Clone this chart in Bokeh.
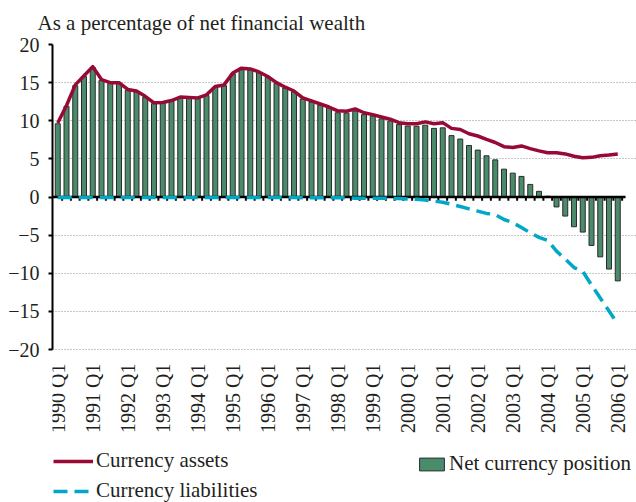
import math
from bokeh.plotting import figure
from bokeh.models import (Range1d, FixedTicker, Legend, LegendItem, ColumnDataSource)
from bokeh.embed import file_html
from bokeh.resources import INLINE

# ---------------- data ----------------
years = list(range(1990, 2007))
quarters = [f"{y} Q{q}" for y in years for q in (1, 2, 3, 4)][:65]

currency_assets = [
    9.7, 12.0, 14.7, 15.9,
    17.1, 15.4, 15.0, 15.0,
    14.1, 13.9, 13.2, 12.35,
    12.4, 12.65, 13.1, 13.05,
    13.0, 13.4, 14.5, 14.7,
    16.25, 16.9, 16.8, 16.4,
    15.8, 15.0, 14.4, 13.9,
    13.0, 12.6, 12.2, 11.8,
    11.3, 11.25, 11.55, 11.05,
    10.8, 10.5, 10.2, 9.75,
    9.6, 9.6, 9.85, 9.6,
    9.75, 9.0, 8.85, 8.3,
    8.0, 7.55, 7.15, 6.6,
    6.5, 6.7, 6.35, 6.05,
    5.8, 5.8, 5.65, 5.35,
    5.15, 5.2, 5.4, 5.5,
    5.65,
]

currency_liabilities = [
    -0.05, -0.05, -0.05, -0.05,
    -0.05, -0.05, -0.05, -0.05,
    -0.05, -0.05, -0.05, -0.05,
    -0.05, -0.05, -0.05, -0.05,
    -0.05, -0.05, -0.05, -0.05,
    -0.05, -0.05, -0.05, -0.05,
    -0.05, -0.05, -0.05, -0.05,
    -0.1, -0.1, -0.1, -0.1,
    -0.1, -0.1, -0.15, -0.15,
    -0.15, -0.15, -0.2, -0.2,
    -0.25, -0.3, -0.4, -0.55,
    -0.68, -0.95, -1.25, -1.55,
    -1.85, -2.15, -2.3, -2.95,
    -3.37, -4.0, -4.7, -5.3,
    -5.7, -7.1, -8.15, -9.25,
    -9.75, -11.55, -13.25, -14.95,
    -16.65,
]

net_currency_position = [
    9.6, 11.9, 14.6, 15.8,
    17.0, 15.3, 14.9, 14.9,
    14.0, 13.8, 13.1, 12.25,
    12.3, 12.55, 13.0, 12.95,
    12.9, 13.3, 14.4, 14.6,
    16.15, 16.8, 16.7, 16.3,
    15.7, 14.9, 14.3, 13.8,
    12.85, 12.45, 12.05, 11.65,
    11.05, 11.0, 11.25, 10.8,
    10.6, 10.25, 9.95, 9.5,
    9.3, 9.28, 9.42, 9.0,
    9.07, 8.05, 7.6, 6.75,
    6.15, 5.4, 4.87, 3.65,
    3.13, 2.7, 1.65, 0.74,
    0.1, -1.3, -2.5, -3.9,
    -4.6, -6.35, -7.85, -9.45,
    -11.0,
]

y_ticks = [-20, -15, -10, -5, 0, 5, 10, 15, 20]
y_tick_labels = ["\u221220", "\u221215", "\u221210", "\u22125", "0", "5", "10", "15", "20"]
x_tick_labels = [q for q in quarters if q.endswith("Q1")]

title_text = "As a percentage of net financial wealth"
legend_labels = ["Currency assets", "Currency liabilities", "Net currency position"]

# ---------------- styles ----------------
FONT = "Liberation Serif"
TICK_FS = "20px"
TEXT_FS = "21px"
TXT = "#231f20"
RED = "#970a36"
CYAN = "#00a8c6"
GREEN = "#4a8b6c"
EDGE = "#2b2b2b"

W, H = 636, 502
LEFT, TOP = 52, 44
PX_PER_Q = 8.75
PX_PER_UNIT = 305 / 40.0
X_LO = -0.6
X_GRID_HI = 64.89
X_HI = X_LO + (W - LEFT) / PX_PER_Q
Y_HI = y_ticks[-1]
Y_LO = y_ticks[0] - (H - TOP - 305) / PX_PER_UNIT

idx = list(range(len(quarters)))
src = ColumnDataSource(dict(x=idx, q=quarters, assets=currency_assets,
                            liab=currency_liabilities, net=net_currency_position))

p = figure(width=W, height=H, output_backend="svg", toolbar_location=None,
           x_range=Range1d(X_LO, X_HI), y_range=Range1d(Y_LO, Y_HI),
           x_axis_location=None,
           min_border_left=LEFT, min_border_right=0, min_border_top=TOP,
           min_border_bottom=0)
p.outline_line_color = None

# title (above the frame)
p.title.text = title_text
p.title.text_font = FONT
p.title.text_font_size = TEXT_FS
p.title.text_font_style = "normal"
p.title.text_color = TXT
p.title.align = "left"
p.title.vertical_align = "top"
p.title.offset = -15
p.title.standoff = 16

# grid
p.xgrid.grid_line_color = None
p.ygrid.ticker = FixedTicker(ticks=[t for t in y_ticks if t != 0])
p.ygrid.grid_line_color = "#8f8f8f"
p.ygrid.grid_line_dash = "1 2"
p.ygrid.grid_line_width = 1
p.ygrid.bounds = (X_LO, X_GRID_HI)

# y axis
ya = p.yaxis[0]
ya.ticker = FixedTicker(ticks=y_ticks)
ya.bounds = (y_ticks[0], y_ticks[-1])
ya.major_label_overrides = {t: l for t, l in zip(y_ticks, y_tick_labels)}
ya.axis_line_color = "black"
ya.axis_line_width = 2
ya.major_tick_line_color = "black"
ya.major_tick_line_width = 2
ya.major_tick_out = 4
ya.major_tick_in = 0
ya.minor_tick_line_color = None
ya.major_label_standoff = 9
ya.major_label_text_font = FONT
ya.major_label_text_font_size = TICK_FS
ya.major_label_text_color = TXT

# bars
r_net = p.vbar(x="x", top="net", bottom=0, width=0.57, source=src,
               fill_color=GREEN, line_color=EDGE, line_width=1)

# zero axis line with quarter ticks
p.segment(x0=[X_LO], y0=[0], x1=[X_GRID_HI], y1=[0], line_color="black", line_width=2.5)
tick_x = [i + 0.5 for i in idx]
p.segment(x0=tick_x, y0=[0] * len(tick_x), x1=tick_x, y1=[-0.5] * len(tick_x),
          line_color="black", line_width=2)

# lines
r_liab = p.line("x", "liab", source=src, line_color=CYAN, line_width=3.5,
                line_dash="14 7")
r_assets = p.line("x", "assets", source=src, line_color=RED, line_width=3.5,
                  line_join="round")

# category tick labels under the -20 line
q1_pos = [i for i, q in enumerate(quarters) if q.endswith("Q1")]
p.text(x=q1_pos, y=[y_ticks[0]] * len(q1_pos), text=x_tick_labels,
       angle=math.pi / 2, text_align="right", text_baseline="middle",
       y_offset=14, text_font=FONT, text_font_size=TICK_FS, text_color=TXT)


# legends
def style(leg):
    leg.border_line_color = None
    leg.background_fill_alpha = 0
    leg.padding = 0
    leg.margin = 0
    leg.label_text_font = FONT
    leg.label_text_font_size = TEXT_FS
    leg.label_text_color = TXT
    leg.label_height = 22


leg1 = Legend(items=[LegendItem(label=legend_labels[0], renderers=[r_assets]),
                     LegendItem(label=legend_labels[1], renderers=[r_liab])],
              location=(1, -1), orientation="vertical",
              glyph_width=40, glyph_height=22, label_standoff=3, spacing=5)
style(leg1)
leg2 = Legend(items=[LegendItem(label=legend_labels[2], renderers=[r_net])],
              location=(364, 26), orientation="vertical",
              glyph_width=31, glyph_height=16, label_standoff=2, spacing=0)
style(leg2)
p.add_layout(leg1)
p.add_layout(leg2)

open("out.html", "w").write(file_html(p, INLINE))
